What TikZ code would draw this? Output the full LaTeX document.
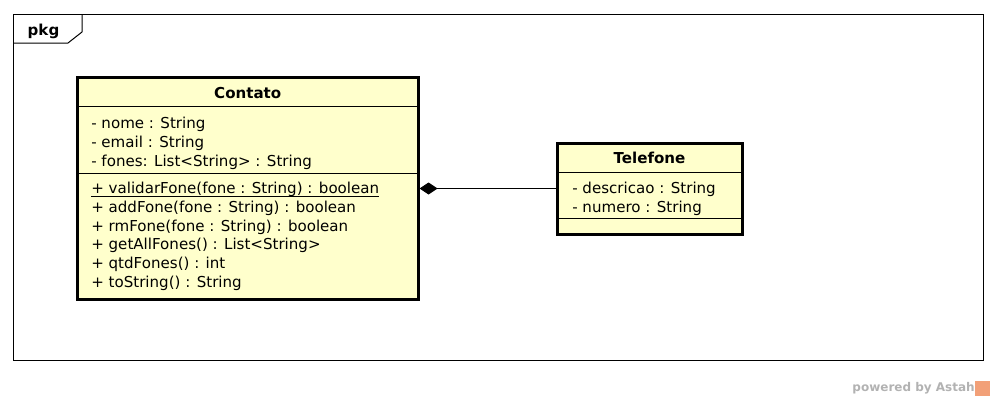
\documentclass[tikz,border=0pt]{standalone}
\usepackage{fontspec}
\setmainfont{DejaVu Sans}
\usetikzlibrary{arrows.meta,positioning}
\definecolor{umlyellow}{RGB}{255,255,204}
\definecolor{astahgray}{RGB}{178,178,178}
\definecolor{astahorange}{RGB}{242,160,120}

\tikzset{
  classbox/.style={rectangle, draw=black, fill=umlyellow, line width=2.25pt, inner sep=0pt},
  compline/.style={draw=black, line width=0.75pt},
  member/.style={anchor=base west, inner sep=0pt, font=\fontsize{11.3}{14}\selectfont},
  classname/.style={anchor=base, inner sep=0pt, font=\fontsize{11.3}{14}\selectfont\bfseries},
}

\begin{document}
\begin{tikzpicture}[x=0.75pt, y=-0.75pt]
\useasboundingbox (0,0) rectangle (996,400);

% package frame
\draw[line width=0.75pt] (13,14) rectangle (983,360);
\draw[line width=0.75pt] (13,43) -- (68,43) -- (82,32) -- (82,14);
\node[classname] (pkg) at (43.5,35) {pkg};

% class Contato
\node[classbox, minimum width=255.4pt, minimum height=166.5pt] (contato) at (247.75,188.5) {};
\node[classname] (contatoname) at (247.75,98.5) {Contato};
\draw[compline] (77.5,106) -- (418,106);
\draw[compline] (77.5,173) -- (418,173);
\node[member] (nome) at (91,128) {- nome : String};
\node[member] (email) at (91,147) {- email : String};
\node[member] (fones) at (91,166) {- fones: List<String> : String};
\node[member] (validar) at (91,193.5) {+ validarFone(fone : String) : boolean};
\draw[line width=0.75pt] ([yshift=-2pt]validar.base west) -- ([yshift=-2pt]validar.base east);
\node[member] (addfone) at (91,212.3) {+ addFone(fone : String) : boolean};
\node[member] (rmfone) at (91,231.1) {+ rmFone(fone : String) : boolean};
\node[member] (getall) at (91,249.9) {+ getAllFones() : List<String>};
\node[member] (qtd) at (91,268.7) {+ qtdFones() : int};
\node[member] (tostr) at (91,287.5) {+ toString() : String};

% class Telefone
\node[classbox, minimum width=138.75pt, minimum height=68.25pt] (telefone) at (649.5,188.5) {};
\node[classname] (telefonename) at (649.5,163.5) {Telefone};
\draw[compline] (557,172) -- (742,172);
\draw[compline] (557,218.5) -- (742,218.5);
\node[member] (descricao) at (572,193.5) {- descricao : String};
\node[member] (numero) at (572,212.3) {- numero : String};

% composition
\draw[line width=0.75pt, {Diamond[length=13.5pt,width=9pt]}-] (contato.east |- telefone.west) -- (telefone.west);

% footer
\node[anchor=base east, inner sep=0pt, text=astahgray, font=\fontsize{9}{11}\selectfont\bfseries] (powered) at (975,391) {powered by Astah};
\node[fill=astahorange, minimum size=11.25pt, inner sep=0pt, anchor=west] (astahlogo) at (powered.east |- 0,388) {};
\end{tikzpicture}
\end{document}
